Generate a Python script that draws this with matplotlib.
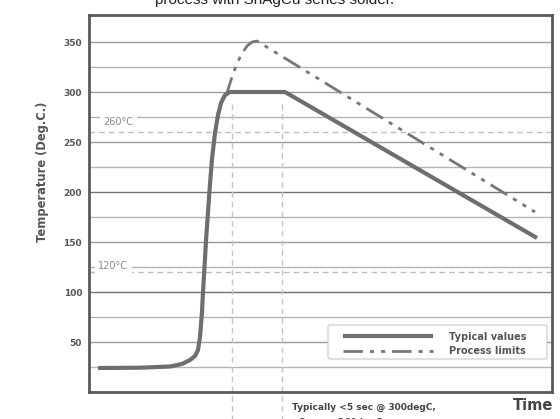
import matplotlib
matplotlib.use("Agg")
import matplotlib.pyplot as plt
from matplotlib.patches import FancyBboxPatch

# ---- data (time in arbitrary units, temperature in deg C) ----
typ_time = [9, 51, 81, 93, 101, 106, 109, 111, 113, 114, 115.5, 117, 119, 121, 123, 126, 129, 132, 136, 141, 196, 448]
typ_temp = [24, 24.3, 25.5, 28, 32, 36, 42, 55, 80, 100, 125, 151, 180, 208, 233, 259, 277, 289, 297, 300, 300, 154]

lim_time = [137, 142, 147, 152, 158, 163, 168, 446]
lim_temp = [296, 312, 326, 337, 346, 350, 351, 180]

marker_times = [143, 193]
ref_temps = [260, 120]
ref_labels = ["260°C", "120°C"]
yticks = [50, 100, 150, 200, 250, 300, 350]
grid_vals = list(range(25, 351, 25))

W, H = 560, 419
fig = plt.figure(figsize=(W / 100, H / 100), dpi=100)
ax = fig.add_axes([89 / W, (H - 392) / H, (552 - 89) / W, (392 - 15) / H])
ax.set_xlim(0, 463)
ax.set_ylim(0, 377)

for g in grid_vals:
    if g in (100, 200):
        c = "#747474"
    elif g % 50 == 0:
        c = "#9c9c9c"
    else:
        c = "#b4b4b4"
    ax.axhline(g, color=c, lw=1.0, zorder=1)

for t in ref_temps:
    ax.axhline(t, color="#bdbdbd", lw=1.0, ls=(0, (4, 3)), zorder=1)

ax.text(14, 270, ref_labels[0], fontsize=7, color="#8a8a8a", va="center", ha="left",
        bbox=dict(facecolor="white", edgecolor="none", pad=2.5), zorder=2)
ax.text(9, 126, ref_labels[1], fontsize=7, color="#8a8a8a", va="center", ha="left",
        bbox=dict(facecolor="white", edgecolor="none", pad=2.5), zorder=2)

for mt in marker_times:
    ax.plot([mt, mt], [288, -40], color="#c4c4c4", lw=1.0, ls=(0, (4, 3)),
            clip_on=False, zorder=1)

ax.plot(typ_time, typ_temp, color="#6e6e6e", lw=3.0, solid_capstyle="butt",
        solid_joinstyle="round", zorder=4, label="Typical values")
ax.plot(lim_time, lim_temp, color="#777777", lw=2.0,
        ls=(0, (7, 2.5, 1.5, 2.5, 1.5, 2.5)), zorder=3, label="Process limits")

ax.set_yticks(yticks)
ax.set_yticklabels([str(v) for v in yticks], fontsize=6.5, fontweight="bold", color="#555555")
ax.tick_params(axis="y", length=0, pad=5)
ax.set_xticks([])
for s in ax.spines.values():
    s.set_color("#5a5a5a")
    s.set_linewidth(2.0)

# legend frame (drawn separately for exact padding)
box = FancyBboxPatch((328 / W, (H - 359) / H), (547 - 328) / W, (359 - 325) / H,
                     boxstyle="round,pad=0,rounding_size=0.004",
                     transform=fig.transFigure, facecolor="white",
                     edgecolor="#c8c8c8", linewidth=0.8, zorder=5, clip_on=False)
ax.add_patch(box)
leg = ax.legend(loc="upper left", bbox_to_anchor=(338 / W, (H - 327) / H),
                bbox_transform=fig.transFigure,
                prop=dict(size=7.0, weight="bold"), labelcolor="#555555",
                handlelength=9.3, handletextpad=1.6, borderpad=0,
                labelspacing=0.45, frameon=False)
leg.set_zorder(6)

fig.text(43 / W, (H - 172) / H, "Temperature (Deg.C.)", rotation=90, fontsize=8.3,
         fontweight="bold", color="#555555", ha="center", va="center")
fig.text(553 / W, (H - 405) / H, "Time", fontsize=10.5, fontweight="bold",
         color="#444444", ha="right", va="center")
fig.text(292 / W, (H - 407) / H, "Typically <5 sec @ 300degC,", fontsize=6.5,
         fontweight="bold", color="#444444", ha="left", va="center")
fig.text(292 / W, (H - 422) / H, "<2sec @ 260degC", fontsize=6.5,
         fontweight="bold", color="#444444", ha="left", va="center")
fig.text(275 / W, (H - 4) / H, "process with SnAgCu series solder.", fontsize=11,
         family="Liberation Sans", color="#222222", ha="center", va="baseline")

fig.savefig("out.png", dpi=100)
